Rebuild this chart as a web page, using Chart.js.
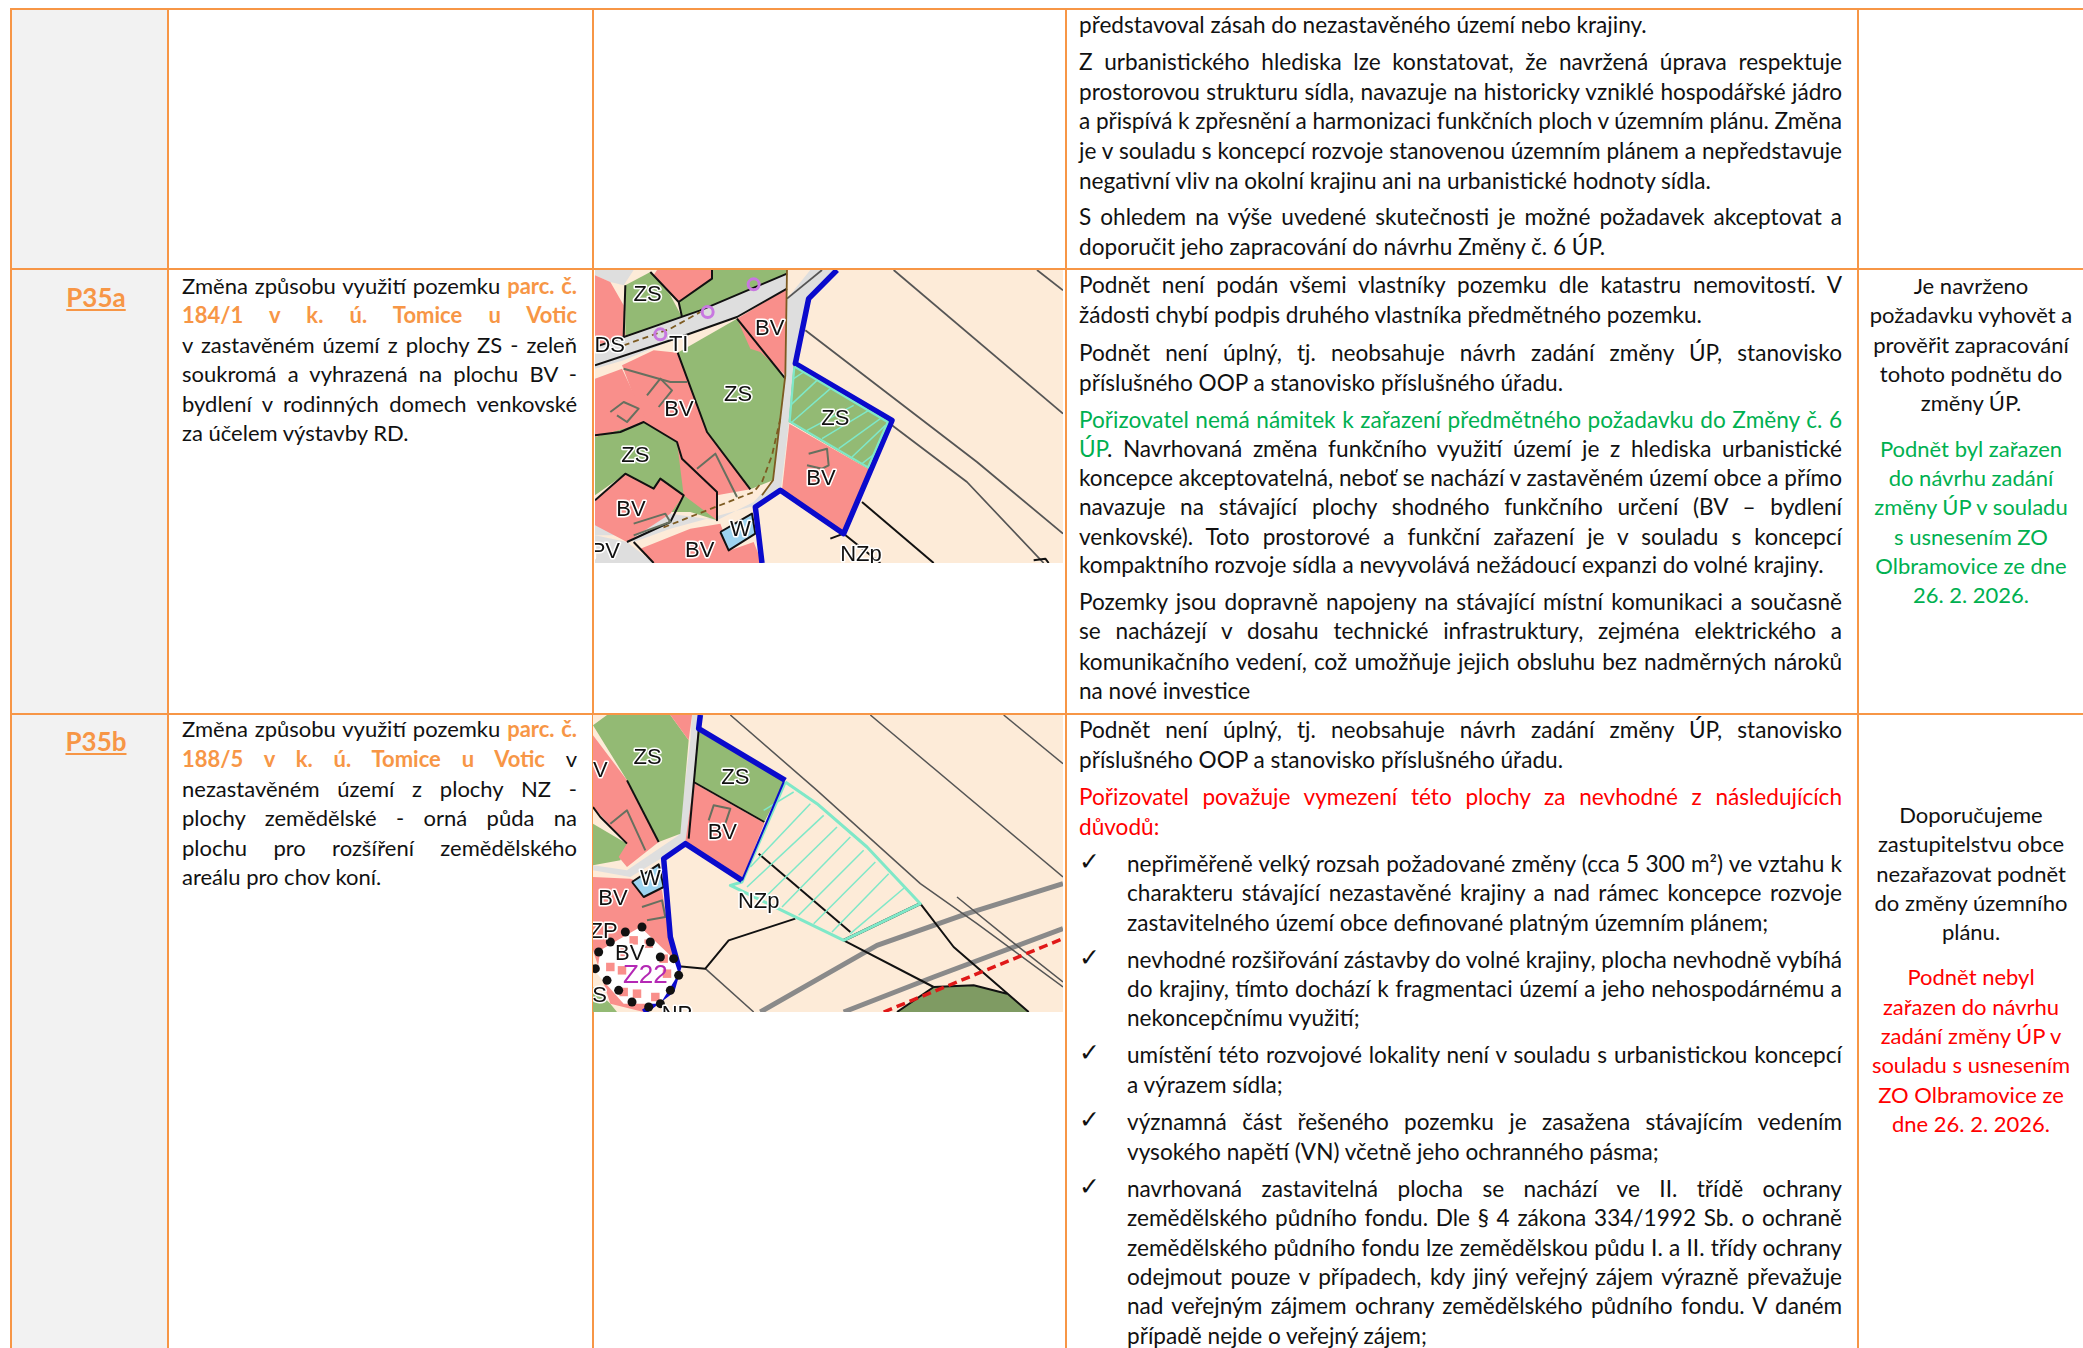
<!DOCTYPE html>
<html>
<head>
<meta charset="utf-8">
<script src="https://cdn.jsdelivr.net/npm/chart.js@4"></script>
<style>
html, body { margin: 0; padding: 0; background: #fff; overflow: hidden; }
#page { position: relative; width: 2083px; height: 1348px; overflow: hidden; font-family: Lato, "Open Sans", sans-serif; font-size: 22px; color: #111; }
.grey { position: absolute; left: 11px; width: 156px; top: 9px; height: 1339px; background: #f2f2f2; }
.h, .v { position: absolute; background: #f79646; }
.h { left: 10px; right: 0; height: 2px; }
.v { top: 8px; bottom: 0; width: 2px; }
.ln { position: absolute; height: 30px; line-height: 30px; white-space: nowrap; }
.wide { font-size: 22.6px; }
.c { text-align: center; }
.o { color: #f79646; font-weight: 700; }
.g { color: #00b050; }
.r { color: #ff0000; }
.tag { position: absolute; left: 11px; width: 170px; text-align: center; color: #f79646; font-weight: 700; font-size: 26px; text-decoration: underline; line-height: 34px; }
.tick { position: absolute; left: 1079px; font-family: "DejaVu Sans", sans-serif; font-size: 25px; line-height: 24px; }
canvas { display: block; }
.map { position: absolute; filter: blur(0.45px); }
</style>
</head>
<body>
<div id="page">
  <div class="grey"></div>
  <div class="h" style="top:8px"></div>
  <div class="h" style="top:268px"></div>
  <div class="h" style="top:713px"></div>
  <div class="v" style="left:10px"></div>
  <div class="v" style="left:167px"></div>
  <div class="v" style="left:592px"></div>
  <div class="v" style="left:1065px"></div>
  <div class="v" style="left:1857px"></div>
  <div class="map" style="left:595px;top:270px;width:468px;height:293px"><canvas id="map1"></canvas></div>
  <div class="map" style="left:593px;top:715px;width:470px;height:297px"><canvas id="map2"></canvas></div>
  <div class="tag" style="top:280px">P35a</div>
  <div class="tag" style="top:724px">P35b</div>
  <div id="text"></div>
</div>
<script>
// table text, one entry per printed line: center y, text, justified
const requestLines = [
  [286, 'Změna způsobu využití pozemku <span class="o">parc. č.</span>', 1],
  [315, '<span class="o">184/1 v k. ú. Tomice u Votic</span>', 1],
  [345, 'v zastavěném území z plochy ZS - zeleň', 1],
  [374, 'soukromá a vyhrazená na plochu BV -', 1],
  [404, 'bydlení v rodinných domech venkovské', 1],
  [433, 'za účelem výstavby RD.', 0],
  [729, 'Změna způsobu využití pozemku <span class="o">parc. č.</span>', 1],
  [759, '<span class="o">188/5 v k. ú. Tomice u Votic</span> v', 1],
  [789, 'nezastavěném území z plochy NZ -', 1],
  [818, 'plochy zemědělské - orná půda na', 1],
  [848, 'plochu pro rozšíření zemědělského', 1],
  [877, 'areálu pro chov koní.', 0]
];
const opinionLines = [
  [25, 'představoval zásah do nezastavěného území nebo krajiny.', 0],
  [62, 'Z urbanistického hlediska lze konstatovat, že navržená úprava respektuje', 1],
  [92, 'prostorovou strukturu sídla, navazuje na historicky vzniklé hospodářské jádro', 1],
  [121, 'a přispívá k zpřesnění a harmonizaci funkčních ploch v územním plánu. Změna', 1],
  [151, 'je v souladu s koncepcí rozvoje stanovenou územním plánem a nepředstavuje', 1],
  [181, 'negativní vliv na okolní krajinu ani na urbanistické hodnoty sídla.', 0],
  [217, 'S ohledem na výše uvedené skutečnosti je možné požadavek akceptovat a', 1],
  [247, 'doporučit jeho zapracování do návrhu Změny č. 6 ÚP.', 0],
  [285, 'Podnět není podán všemi vlastníky pozemku dle katastru nemovitostí. V', 1],
  [315, 'žádosti chybí podpis druhého vlastníka předmětného pozemku.', 0],
  [353, 'Podnět není úplný, tj. neobsahuje návrh zadání změny ÚP, stanovisko', 1],
  [383, 'příslušného OOP a stanovisko příslušného úřadu.', 0],
  [420, '<span class="g">Pořizovatel nemá námitek k zařazení předmětného požadavku do Změny č. 6</span>', 1],
  [449, '<span class="g">ÚP</span>. Navrhovaná změna funkčního využití území je z hlediska urbanistické', 1],
  [478, 'koncepce akceptovatelná, neboť se nachází v zastavěném území obce a přímo', 1],
  [507, 'navazuje na stávající plochy shodného funkčního určení (BV – bydlení', 1],
  [537, 'venkovské). Toto prostorové a funkční zařazení je v souladu s koncepcí', 1],
  [565, 'kompaktního rozvoje sídla a nevyvolává nežádoucí expanzi do volné krajiny.', 0],
  [602, 'Pozemky jsou dopravně napojeny na stávající místní komunikaci a současně', 1],
  [631, 'se nacházejí v dosahu technické infrastruktury, zejména elektrického a', 1],
  [662, 'komunikačního vedení, což umožňuje jejich obsluhu bez nadměrných nároků', 1],
  [691, 'na nové investice', 0],
  [730, 'Podnět není úplný, tj. neobsahuje návrh zadání změny ÚP, stanovisko', 1],
  [760, 'příslušného OOP a stanovisko příslušného úřadu.', 0],
  [797, '<span class="r">Pořizovatel považuje vymezení této plochy za nevhodné z následujících</span>', 1],
  [827, '<span class="r">důvodů:</span>', 0]
];
const reasonLines = [
  [864, 'nepřiměřeně velký rozsah požadované změny (cca 5 300 m²) ve vztahu k', 1],
  [893, 'charakteru stávající nezastavěné krajiny a nad rámec koncepce rozvoje', 1],
  [923, 'zastavitelného území obce definované platným územním plánem;', 0],
  [960, 'nevhodné rozšiřování zástavby do volné krajiny, plocha nevhodně vybíhá', 1],
  [989, 'do krajiny, tímto dochází k fragmentaci území a jeho nehospodárnému a', 1],
  [1018, 'nekoncepčnímu využití;', 0],
  [1055, 'umístění této rozvojové lokality není v souladu s urbanistickou koncepcí', 1],
  [1085, 'a výrazem sídla;', 0],
  [1122, 'významná část řešeného pozemku je zasažena stávajícím vedením', 1],
  [1152, 'vysokého napětí (VN) včetně jeho ochranného pásma;', 0],
  [1189, 'navrhovaná zastavitelná plocha se nachází ve II. třídě ochrany', 1],
  [1218, 'zemědělského půdního fondu. Dle § 4 zákona 334/1992 Sb. o ochraně', 1],
  [1248, 'zemědělského půdního fondu lze zemědělskou půdu I. a II. třídy ochrany', 1],
  [1277, 'odejmout pouze v případech, kdy jiný veřejný zájem výrazně převažuje', 1],
  [1306, 'nad veřejným zájmem ochrany zemědělského půdního fondu. V daném', 1],
  [1336, 'případě nejde o veřejný zájem;', 0]
];
const tickRows = [861, 957, 1052, 1119, 1186];
const resultLines = [
  [286, 'Je navrženo'], [315, 'požadavku vyhovět a'], [345, 'prověřit zapracování'],
  [374, 'tohoto podnětu do'], [403, 'změny ÚP.'],
  [449, '<span class="g">Podnět byl zařazen</span>'], [478, '<span class="g">do návrhu zadání</span>'],
  [507, '<span class="g">změny ÚP v souladu</span>'], [537, '<span class="g">s usnesením ZO</span>'],
  [566, '<span class="g">Olbramovice ze dne</span>'], [595, '<span class="g">26. 2. 2026.</span>'],
  [815, 'Doporučujeme'], [844, 'zastupitelstvu obce'], [874, 'nezařazovat podnět'],
  [903, 'do změny územního'], [932, 'plánu.'],
  [977, '<span class="r">Podnět nebyl</span>'], [1007, '<span class="r">zařazen do návrhu</span>'],
  [1036, '<span class="r">zadání změny ÚP v</span>'], [1065, '<span class="r">souladu s usnesením</span>'],
  [1095, '<span class="r">ZO Olbramovice ze</span>'], [1124, '<span class="r">dne 26. 2. 2026.</span>']
];

// map 1 shapes
const map1Extent = [14, 1418, 14, 893];
const map1Land = [[[14,14],[1418,14],[1418,893],[14,893]]];
const map1Road = [
  [[14,14],[130,14],[100,60],[60,50],[14,30]],
  [[14,245],[110,215],[330,135],[590,25],[590,70],[440,155],[270,215],[100,285],[14,310]],
  [[590,100],[660,14],[740,14],[655,100],[620,290],[595,480],[572,670],[490,722],[240,790],[130,830],[100,810],[14,810],[14,780],[120,810],[240,745],[380,765],[490,710],[550,645],[580,340]],
  [[14,810],[110,830],[190,893],[14,893]]
];
const map1Green = [
  [[105,60],[180,20],[240,90],[275,155],[105,215]],
  [[265,110],[365,40],[365,14],[590,14],[590,25],[330,135],[275,155]],
  [[262,262],[440,160],[585,340],[548,645],[480,672],[350,500]],
  [[14,515],[160,470],[260,530],[380,680],[380,765],[300,740],[240,740],[280,690],[210,640],[190,670],[105,625],[14,690]]
];
const map1Pink = [
  [[14,14],[14,30],[60,50],[100,120],[105,215],[14,240]],
  [[200,14],[365,14],[365,40],[265,110],[190,30]],
  [[440,160],[540,100],[590,70],[585,330],[510,260],[480,250]],
  [[95,300],[190,255],[262,262],[350,500],[480,672],[380,690],[380,765],[280,690],[260,530],[160,470]],
  [[14,340],[95,310],[170,470],[14,515]],
  [[14,705],[105,625],[190,670],[210,640],[280,690],[240,745],[110,830],[14,780]],
  [[150,850],[300,790],[390,775],[420,855],[490,830],[515,893],[190,893]],
  [[597,475],[835,612],[760,805],[575,675]]
];
const map1Subject = [[[610,295],[905,465],[835,612],[595,470]]];
const map1SubjectEdge = [[[612,304],[892,470],[833,606],[598,468]]];
const map1Water = [[[390,800],[485,745],[495,805],[415,855]]];
const map1Hatch = [
  [[610,340],[640,320]], [[600,420],[680,345]], [[605,470],[720,370]], [[650,495],[790,420]],
  [[695,520],[835,435]], [[745,550],[870,460]], [[785,575],[885,480]], [[815,595],[860,560]]
];
const map1Thin = [
  [[910,14],[1418,445]], [[1340,14],[1418,75]], [[645,195],[1160,590],[1418,805]],
  [[905,480],[1130,650],[1360,893]], [[590,100],[695,14]]
];
const map1Black = [
  [[14,510],[90,500],[160,470],[260,530],[275,580],[380,680],[380,765]],
  [[262,262],[350,500],[480,672]], [[440,160],[585,340]], [[105,60],[100,215]], [[180,20],[265,110],[275,155]],
  [[14,245],[330,135],[590,25]], [[14,300],[270,215],[440,155],[590,70]],
  [[815,710],[1030,893]], [[720,820],[760,805],[870,893]], [[130,830],[190,893]],
  [[265,110],[365,40],[365,14]], [[14,705],[105,625],[190,670],[210,640],[280,690],[240,770],[110,830]],
  [[1330,885],[1365,880],[1375,893]]
];
const map1Plot = [
  [[60,440],[100,410],[145,430],[110,470],[80,450]], [[170,390],[210,340],[245,375],[205,425]],
  [[655,565],[710,550],[715,600],[695,610],[650,600]], [[320,610],[375,565],[440,695]],
  [[130,775],[225,745],[240,770],[130,810]], [[100,310],[240,350],[290,350]]
];
const map1Ditch = [[[100,240],[240,190],[330,140]], [[570,460],[545,570],[515,650],[490,680],[210,790]]];
const map1Fence = [[[590,14],[585,330],[548,645],[515,690]]];
const map1Boundary = [[[740,14],[655,100],[615,295],[905,465],[760,805],[570,675],[495,725],[515,893]]];
const map1Rings = [[490,57], [352,140], [210,207]];
const map1Labels = [
  ['ZS',172,90], ['BV',538,192], ['DS',58,243], ['TI',265,240], ['ZS',443,390], ['BV',266,434],
  ['ZS',735,460], ['ZS',135,572], ['BV',692,640], ['BV',122,735], ['W',450,795], ['BV',328,858], ['PV',45,860], ['NZp',812,868]
];

// map 2 shapes
const map2Extent = [8, 1418, 14, 905];
const map2Land = [[[8,14],[1418,14],[1418,905],[8,905]]];
const map2Road = [
  [[305,14],[340,14],[325,60],[295,385],[220,440],[120,500],[8,480],[8,465],[110,480],[265,375],[300,90]]
];
const map2Green = [
  [[8,45],[50,14],[240,14],[295,90],[270,370],[205,395],[110,210]],
  [[8,340],[110,400],[90,450],[8,465]],
  [[322,62],[585,212],[522,335],[310,215]],
  [[8,830],[60,880],[80,905],[8,905]]
];
const map2Pink = [
  [[240,14],[305,14],[295,90]],
  [[8,75],[110,210],[205,395],[110,470],[85,440],[110,400],[8,290]],
  [[310,218],[522,338],[455,510],[285,395]],
  [[8,500],[120,505],[215,540],[245,720],[265,770],[250,840],[160,905],[60,880],[8,720]]
];
const map2Olive = [[[920,905],[1030,830],[1150,825],[1250,850],[1315,905]]];
const map2Water = [[[125,515],[205,462],[220,530],[160,560]]];
const map2Subject = [[[585,215],[680,280],[830,410],[990,580],[760,690],[420,525],[455,515]]];
const map2Hatch = [
  [[520,300],[610,245]], [[480,470],[660,280]], [[470,530],[700,315]], [[525,560],[740,350]],
  [[575,590],[780,380]], [[625,615],[820,420]], [[670,640],[855,455]], [[725,665],[895,490]], [[780,670],[945,530]]
];
const map2Thin = [
  [[420,14],[680,240],[990,520],[1160,640],[1418,830]], [[840,14],[1418,500]], [[1240,14],[1418,160]],
  [[1100,560],[1260,690],[1418,815]], [[345,775],[490,905]]
];
const map2Black = [
  [[505,430],[780,665]], [[990,580],[1090,710],[1315,905]], [[760,690],[1030,830]],
  [[1030,830],[1150,825],[1250,850]], [[615,625],[415,690],[345,775],[265,768]],
  [[310,215],[522,335]], [[110,210],[205,395]], [[295,385],[325,60]], [[8,290],[30,320],[110,400]],
  [[920,905],[1030,830]]
];
const map2Border = [[[990,580],[760,690]]];
const map2Gravel = [[[510,905],[860,705],[1130,610],[1418,520]], [[760,905],[1030,800],[1418,655]]];
const map2Power = [[[880,905],[1100,815],[1418,685]]];
const map2Blue = [[[330,14],[325,55],[585,210]], [[455,510],[285,400],[220,445],[240,680],[265,770],[245,840],[160,905]]];
const map2BlueThin = [[[580,215],[455,510]]];
const map2Plot = [[[355,330],[370,285],[420,295],[405,340]], [[155,590],[215,570],[225,620],[170,630]], [[60,340],[110,300],[165,420]]];
const map2Zone = [[[30,720],[150,650],[250,745],[265,790],[210,880],[100,880],[20,790]]];
const map2Checks = [[130,690],[175,700],[100,725],[220,745],[95,780],[60,770],[140,850],[195,860],[100,845],[230,790]];
const map2Ring = [[155,650],[105,665],[60,695],[25,725],[15,775],[50,810],[85,840],[125,875],[175,890],[210,880],[240,840],[265,795],[250,745],[210,740],[180,695]];
const map2Labels = [
  ['ZS',172,142], ['V',30,182], ['ZS',435,204], ['BV',396,368], ['W',180,505], ['BV',68,565], ['NZp',505,575], ['ZP',40,665], ['BV',118,730], ['S',28,858], ['NP',260,915]
];
const map2Magenta = [['Z22',165,795]];

// styles per layer
const fills = { land: '#fdebd8', road: '#dedede', green: '#93ba74', pink: '#f98f8b', olive: '#7f9b63', water: '#9dd3ef', white: '#ffffff' };
const black = '#111111', grey = '#555555', gravel = '#8a8a8a', blue = '#0a0acc', mint = '#7fe8c8', plot = '#66705f', ditch = '#7d5b22';

function poly(shape, fill, stroke, width) {
  const closed = shape.concat([shape[0]]);
  return { data: closed.map(p => ({x: p[0], y: p[1]})), polyFill: fill, showLine: !!stroke, borderColor: stroke || 'transparent', borderWidth: width || 0, pointRadius: 0, borderJoinStyle: 'round' };
}
function path(shape, stroke, width, dash) {
  return { data: shape.map(p => ({x: p[0], y: p[1]})), showLine: true, borderColor: stroke, borderWidth: width, borderDash: dash || [], pointRadius: 0, borderJoinStyle: 'round' };
}
function dots(list, style, radius, fill, stroke, width) {
  return { data: list.map(p => ({x: p[0], y: p[1]})), showLine: false, pointStyle: style, pointRadius: radius, pointBackgroundColor: fill, pointBorderColor: stroke, pointBorderWidth: width };
}

// line datasets only stroke, so closed shapes are filled here from the scaled points
const polyFillPlugin = {
  id: 'polyFill',
  beforeDatasetDraw(chart, args) {
    const fill = chart.data.datasets[args.index].polyFill;
    if (!fill) return;
    const ctx = chart.ctx;
    ctx.save();
    ctx.beginPath();
    args.meta.data.forEach((pt, i) => { if (i) ctx.lineTo(pt.x, pt.y); else ctx.moveTo(pt.x, pt.y); });
    ctx.closePath();
    ctx.fillStyle = fill;
    ctx.fill();
    ctx.restore();
  }
};
const labelPlugin = {
  id: 'mapLabels',
  afterDatasetsDraw(chart, args, opts) {
    const ctx = chart.ctx;
    const {x, y} = chart.scales;
    ctx.save();
    ctx.beginPath();
    ctx.rect(chart.chartArea.left, chart.chartArea.top, chart.chartArea.width, chart.chartArea.height);
    ctx.clip();
    ctx.textAlign = 'center';
    ctx.textBaseline = 'middle';
    ctx.lineJoin = 'round';
    opts.items.forEach(l => {
      ctx.font = '22px "Liberation Sans"';
      ctx.strokeStyle = '#ffffff';
      ctx.lineWidth = 3;
      ctx.strokeText(l[0], x.getPixelForValue(l[1]), y.getPixelForValue(l[2]));
      ctx.fillStyle = '#111111';
      ctx.fillText(l[0], x.getPixelForValue(l[1]), y.getPixelForValue(l[2]));
    });
    (opts.magenta || []).forEach(l => {
      ctx.font = '26px "Liberation Sans"';
      ctx.fillStyle = '#b428b4';
      ctx.fillText(l[0], x.getPixelForValue(l[1]), y.getPixelForValue(l[2]));
    });
    ctx.restore();
  }
};

function drawMap(id, extent, layers, labels, magenta) {
  new Chart(document.getElementById(id), {
    type: 'scatter',
    data: { datasets: layers.slice().reverse() },
    plugins: [polyFillPlugin, labelPlugin],
    options: {
      responsive: true,
      maintainAspectRatio: false,
      animation: false,
      layout: { padding: 0, autoPadding: false },
      scales: {
        x: { display: false, min: extent[0], max: extent[1] },
        y: { display: false, min: extent[2], max: extent[3], reverse: true }
      },
      plugins: { legend: { display: false }, tooltip: { enabled: false }, mapLabels: { items: labels, magenta: magenta } }
    }
  });
}

drawMap('map1', map1Extent, [
  ...map1Land.map(s => poly(s, fills.land)),
  ...map1Road.map(s => poly(s, fills.road)),
  ...map1Green.map(s => poly(s, fills.green)),
  ...map1Pink.map(s => poly(s, fills.pink)),
  ...map1Water.map(s => poly(s, fills.water, black, 2)),
  ...map1Thin.map(s => path(s, grey, 1.8)),
  ...map1Black.map(s => path(s, black, 2)),
  ...map1Plot.map(s => path(s, plot, 2)),
  ...map1Ditch.map(s => path(s, ditch, 1.8, [6, 4])),
  ...map1Subject.map(s => poly(s, fills.green)),
  ...map1Hatch.map(s => path(s, mint, 1.5)),
  ...map1Fence.map(s => path(s, ditch, 1.8)),
  ...map1Boundary.map(s => path(s, blue, 5.5)),
  ...map1SubjectEdge.map(s => poly(s, null, mint, 2.2)),
  dots(map1Rings, 'circle', 5.5, 'transparent', '#c878e0', 3)
], map1Labels);

drawMap('map2', map2Extent, [
  ...map2Land.map(s => poly(s, fills.land)),
  ...map2Road.map(s => poly(s, fills.road)),
  ...map2Green.map(s => poly(s, fills.green)),
  ...map2Pink.map(s => poly(s, fills.pink)),
  ...map2Olive.map(s => poly(s, fills.olive)),
  ...map2Water.map(s => poly(s, fills.water, black, 2)),
  ...map2Gravel.map(s => path(s, gravel, 5)),
  ...map2Thin.map(s => path(s, grey, 1.5)),
  ...map2Black.map(s => path(s, black, 2)),
  ...map2Border.map(s => path(s, black, 3)),
  ...map2Plot.map(s => path(s, plot, 2)),
  ...map2Power.map(s => path(s, '#e01818', 3.5, [9, 5])),
  ...map2Hatch.map(s => path(s, mint, 1.5)),
  ...map2Subject.map(s => poly(s, null, mint, 3)),
  ...map2BlueThin.map(s => path(s, blue, 2)),
  ...map2Blue.map(s => path(s, blue, 5.5)),
  ...map2Zone.map(s => poly(s, fills.white)),
  dots(map2Checks, 'rect', 6, fills.pink, fills.pink, 0),
  dots(map2Ring, 'circle', 4.5, black, black, 0)
], map2Labels, map2Magenta);

// table text: lines are stretched to their cell width the way the justified source is
function addLine(y, html, left, width, justify, centered, cls) {
  const el = document.createElement('div');
  el.className = 'ln' + (centered ? ' c' : '') + (cls ? ' ' + cls : '');
  el.style.top = (y - 15) + 'px';
  el.style.left = left + 'px';
  if (centered) el.style.width = width + 'px';
  el.innerHTML = html;
  document.getElementById('text').appendChild(el);
  if (justify) {
    const natural = el.getBoundingClientRect().width;
    const gaps = el.textContent.split(' ').length - 1;
    const spare = width - natural;
    if (spare >= 0 && gaps) el.style.wordSpacing = (spare / gaps) + 'px';
    else el.style.letterSpacing = (spare / el.textContent.length) + 'px';
  }
}
requestLines.forEach(l => addLine(l[0], l[1], 182, 395, l[2]));
opinionLines.forEach(l => addLine(l[0], l[1], 1079, 763, l[2], false, 'wide'));
reasonLines.forEach(l => addLine(l[0], l[1], 1127, 715, l[2], false, 'wide'));
resultLines.forEach(l => addLine(l[0], l[1], 1859, 224, 0, true));
tickRows.forEach(y => {
  const el = document.createElement('div');
  el.className = 'tick';
  el.style.top = (y - 11) + 'px';
  el.textContent = '✓';
  document.getElementById('text').appendChild(el);
});
</script>
</body>
</html>
